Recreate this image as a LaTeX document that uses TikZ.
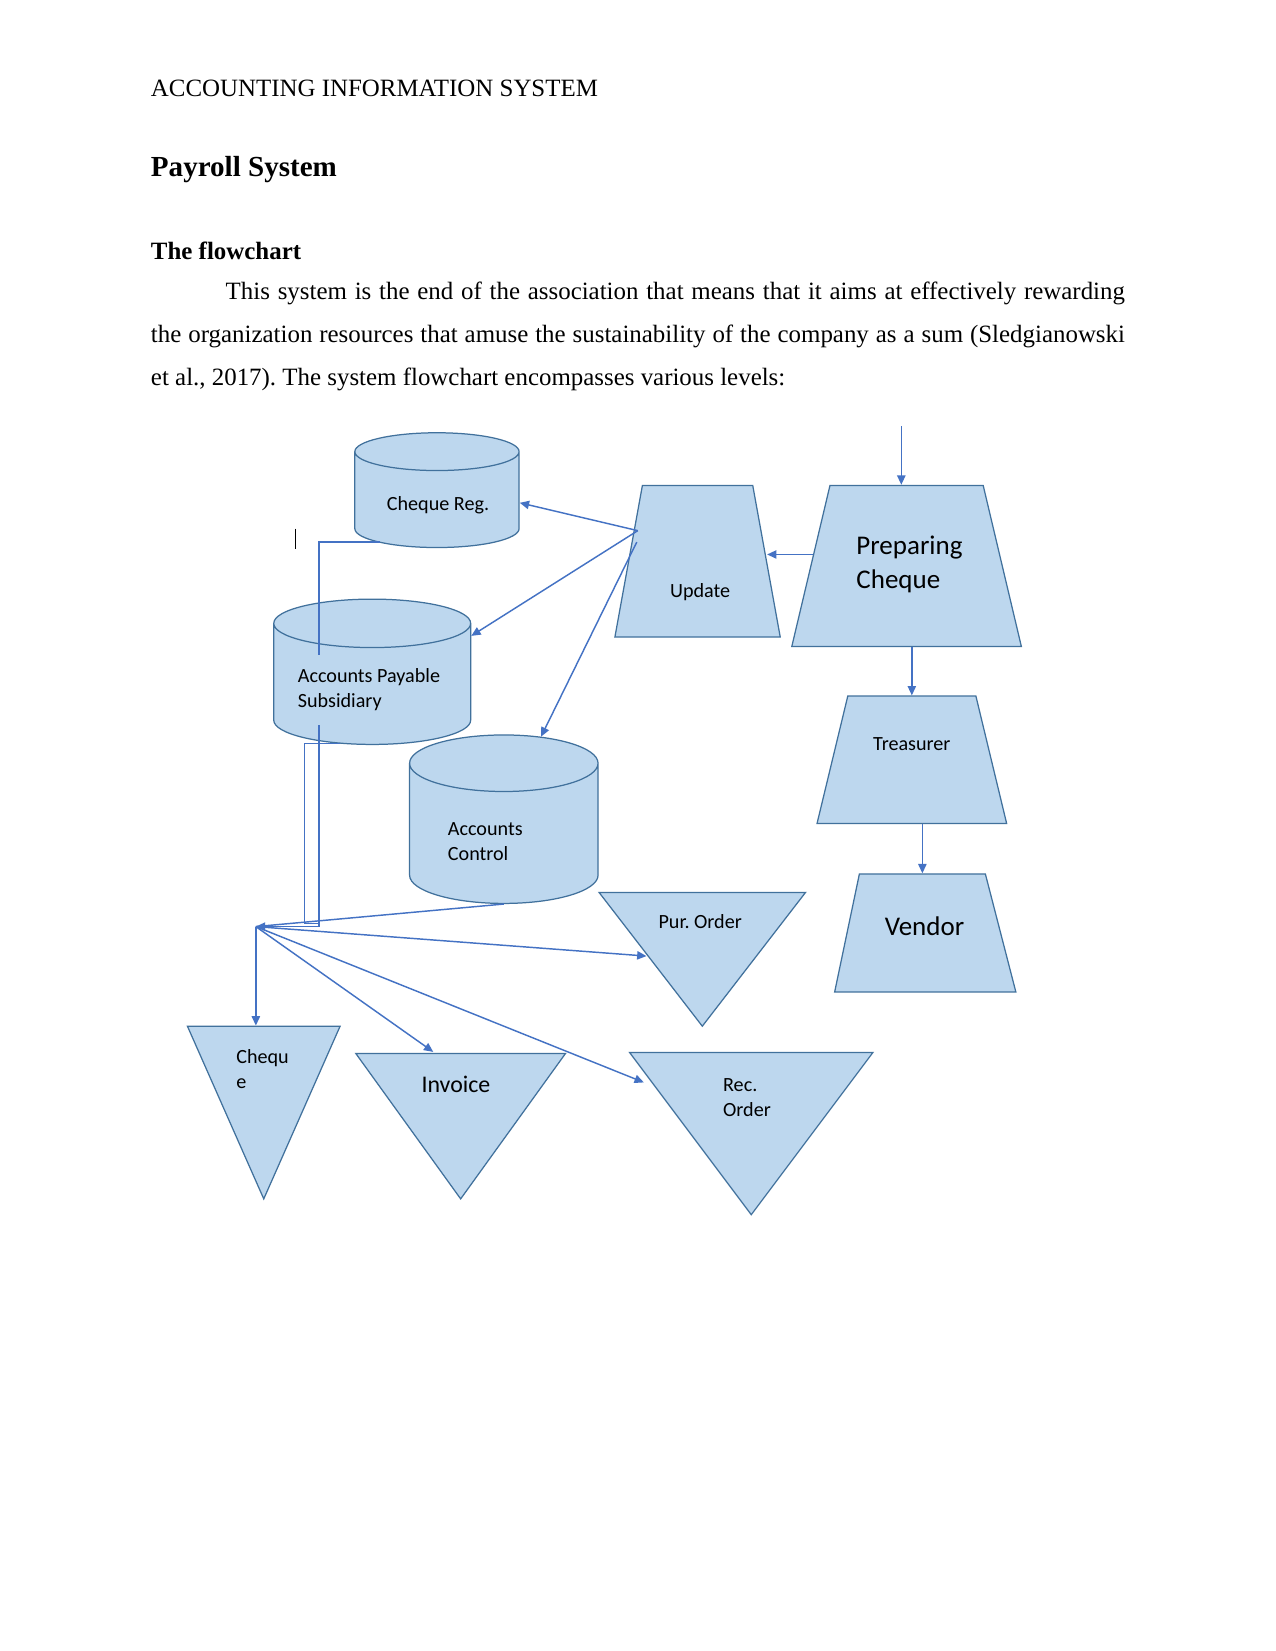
\documentclass[tikz,border=0pt]{standalone}
\usepackage{fontspec}
\setmainfont{Liberation Serif}
\newfontfamily\diagfont{Carlito}
\usetikzlibrary{shapes.geometric,arrows.meta,calc}
\newdimen\pxu
\pxu=0.17828mm
\definecolor{boxfill}{HTML}{BDD7EE}
\definecolor{boxline}{HTML}{41719C}
\definecolor{flowblue}{HTML}{4472C4}
\tikzset{
  dbcyl/.style={cylinder,shape border rotate=90,draw=boxline,fill=boxfill,
    line width=0.6pt,inner xsep=0pt,inner ysep=1pt,anchor=shape center},
  procbox/.style={trapezium,trapezium stretches=true,draw=boxline,fill=boxfill,
    line width=0.6pt,inner sep=1pt},
  docbox/.style={isosceles triangle,isosceles triangle stretches,
    shape border rotate=-90,draw=boxline,fill=boxfill,
    line width=0.6pt,inner sep=1pt},
  lbl/.style={font=\diagfont\fontsize{9.7}{12}\selectfont,inner sep=0pt,align=left},
  midlbl/.style={font=\diagfont\fontsize{11.5}{14}\selectfont,inner sep=0pt},
  biglbl/.style={font=\diagfont\fontsize{13}{16}\selectfont,inner sep=0pt,align=left},
  bodytext/.style={font=\fontsize{12}{14}\selectfont,inner sep=0pt,anchor=base west},
  arrow/.style={-{Triangle[length=4.5pt,width=4pt]},draw=flowblue,line width=0.7pt},
  link/.style={draw=flowblue,line width=0.7pt},
}
\frenchspacing
\begin{document}
\begin{tikzpicture}[x=0.17828mm,y=-0.17828mm]
  \fill[white] (0,0) rectangle (1211,1568);
  \useasboundingbox (0,0) rectangle (1211,1568);

  % page text
  \node[bodytext] (header) at (143,92) {ACCOUNTING INFORMATION SYSTEM};
  \node[bodytext,font=\fontsize{14}{16}\selectfont\bfseries] (title) at (143,168) {Payroll System};
  \node[bodytext,font=\fontsize{12}{14}\selectfont\bfseries] (subtitle) at (143,246) {The flowchart};
  \node[bodytext] (para1) at (214,284) {\makebox[854\pxu][s]{This system is the end of the association that means that it aims at effectively rewarding}};
  \node[bodytext] (para2) at (143,325) {\makebox[925\pxu][s]{the organization resources that amuse the sustainability of the company as a sum (Sledgianowski}};
  \node[bodytext] (para3) at (143,366) {et al., 2017). The system flowchart encompasses various levels:};

  % files
  \node[dbcyl,text width=156\pxu,minimum height=109\pxu,aspect=0.23] (chqreg) at (415,465.5) {};
  \node[dbcyl,text width=187\pxu,minimum height=138\pxu,aspect=0.246] (apsub) at (353.5,638) {};
  \node[dbcyl,text width=179\pxu,minimum height=160\pxu,aspect=0.3] (acctl) at (478.5,778) {};

  % processes
  \node[procbox,minimum width=157\pxu,minimum height=144\pxu,
    trapezium left angle=76,trapezium right angle=76] (update) at (662.5,533) {};
  \node[procbox,minimum width=218\pxu,minimum height=153\pxu,
    trapezium left angle=76,trapezium right angle=76] (prepchq) at (861,537.5) {};
  \node[procbox,minimum width=180\pxu,minimum height=121\pxu,
    trapezium left angle=76.5,trapezium right angle=76.5] (treas) at (866,721.5) {};
  \node[procbox,minimum width=172\pxu,minimum height=112\pxu,
    trapezium left angle=78.9,trapezium right angle=76.4] (vendor) at (876,886) {};

  % documents
  \node[docbox,minimum width=145\pxu,minimum height=164\pxu,anchor=lower side] (cheque) at (250.5,974) {};
  \node[docbox,minimum width=199\pxu,minimum height=138\pxu,anchor=lower side] (invoice) at (437.5,1000) {};
  \node[docbox,minimum width=196\pxu,minimum height=127\pxu,anchor=lower side] (purord) at (667,847) {};
  \node[docbox,minimum width=231\pxu,minimum height=154\pxu,anchor=lower side] (record) at (713.5,999) {};

  % labels
  \node[lbl,anchor=base] (chqreg-t) at (416,484.5) {Cheque Reg.};
  \node[lbl,anchor=base west] (apsub-t) at (282.5,672) {Accounts Payable\\Subsidiary};
  \node[lbl,anchor=base west] (acctl-t) at (425,817) {Accounts\\Control};
  \node[lbl,anchor=base] (update-t) at (665,567.5) {Update};
  \node[biglbl,anchor=base west] (prepchq-t) at (813,558.5) {Preparing\\Cheque};
  \node[lbl,anchor=base] (treas-t) at (866,713) {Treasurer};
  \node[biglbl,anchor=base] (vendor-t) at (878,888) {Vendor};
  \node[lbl,anchor=base west] (cheque-t) at (224,1034) {Chequ\\e};
  \node[midlbl,anchor=base] (invoice-t) at (433,1038) {Invoice};
  \node[lbl,anchor=base] (purord-t) at (665,881.6) {Pur. Order};
  \node[lbl,anchor=base west] (record-t) at (686.4,1060.7) {Rec.\\Order};

  % connectors
  \coordinate (feed) at (856,405);
  \coordinate (hub) at (243,880);
  \coordinate (apin) at (303,622);
  \coordinate (apout) at (303,689);
  \coordinate (aploop) at (323,706);
  \coordinate (loopcorner) at (289,877);
  \coordinate (updout1) at ($(update.bottom left corner)!0.7!(update.top left corner)+(4,0)$);
  \coordinate (updout2) at ($(update.bottom left corner)!0.625!(update.top left corner)+(5,0)$);

  \draw[arrow] (feed) -- (feed |- prepchq.north);
  \draw[arrow] (treas.north |- prepchq.south) -- (treas.north);
  \draw[arrow] (vendor.north |- treas.south) -- (vendor.north);
  \draw[arrow] (prepchq.173) -- (prepchq.173 -| update.east);
  \draw[arrow] (updout1) -- (chqreg.-2);
  \draw[arrow] (updout1) -- (apsub.26);
  \draw[arrow] (updout2) -- (acctl.69);
  \draw[link] ($(chqreg.south)+(-54,-6)$) -| (apin);
  \draw[link] (aploop) -| (loopcorner) -- (loopcorner -| apout);
  \draw[link] (acctl.south) -- (hub);
  \draw[arrow] (apout) -- (apout |- hub) -- (hub);
  \draw[arrow] (hub) -- (hub |- cheque.lower side);
  \draw[arrow] (hub) -- ($(invoice.lower side)+(-26,-1)$);
  \draw[arrow] (hub) -- ($(purord.lower side)+(-53,61)$);
  \draw[arrow] (hub) -- ($(record.lower side)+(-102,29)$);

  \draw[black,line width=0.6pt] (281,502) -- (281,521);
\end{tikzpicture}
\end{document}
